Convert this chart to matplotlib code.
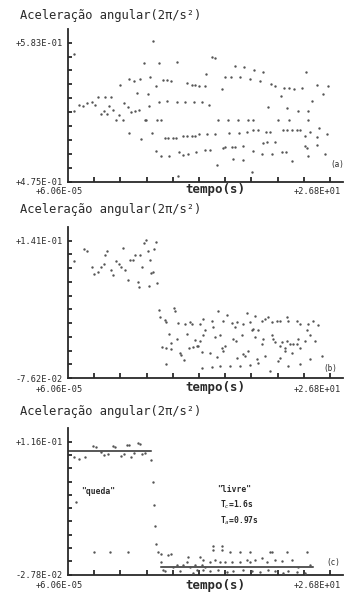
import numpy as np
import matplotlib.pyplot as plt

# panel (a)
t_a = [0.62, 1.13, 1.58, 1.99, 2.44, 2.78, 3.02, 3.81, 4.40, 3.37, 3.64, 3.99, 4.57, 4.23, 5.26,
       4.91, 5.60, 5.33, 5.77, 6.12, 6.46, 6.87, 7.25, 6.22, 6.73, 7.39, 7.77, 8.38, 8.73, 7.08,
       8.18, 6.29, 7.49, 8.59, 7.83, 8.01, 9.14, 9.55, 8.28, 9.31, 10.10, 11.10, 11.96, 12.88, 13.68,
       9.04, 9.31, 11.10, 9.72, 10.17, 10.58, 12.13, 12.64, 12.99, 13.43, 14.02, 8.97, 9.48, 10.31,
       11.34, 11.79, 12.23, 13.09, 14.02, 9.90, 10.24, 10.69, 11.03, 11.79, 12.20, 12.64, 12.99,
       13.43, 11.27, 0.62,
       14.69, 15.03, 14.11, 17.08, 18.04, 19.06, 19.98, 16.06, 16.67, 17.59, 18.62, 19.64, 20.76,
       21.17, 22.09, 22.64, 23.15, 23.90, 24.34, 25.44, 26.63, 26.12, 15.72, 21.79, 14.45, 20.49,
       22.37, 23.49, 24.58, 24.92, 15.38, 16.40, 17.42, 18.44, 18.96, 21.51, 22.64, 24.58, 14.18,
       15.03, 16.50, 17.52, 18.27, 18.96, 19.47, 20.25, 20.66, 21.96, 22.37, 22.88, 23.39, 23.73,
       24.24, 24.75, 25.71, 25.44, 26.46, 14.52, 15.82, 16.06, 16.74, 17.08, 17.93, 19.98, 20.32,
       21.17, 21.85, 22.30, 24.24, 24.41, 25.44, 16.91, 17.86, 18.96, 19.81, 20.83, 22.88, 24.58,
       26.29, 15.21, 18.85]
acc_a = [0.530, 0.535, 0.534, 0.536, 0.537, 0.535, 0.541, 0.541, 0.541, 0.528, 0.530, 0.528, 0.531,
         0.534, 0.527, 0.523, 0.523, 0.550, 0.536, 0.533, 0.529, 0.530, 0.531, 0.555, 0.553, 0.555,
         0.567, 0.556, 0.584, 0.544, 0.543, 0.513, 0.508, 0.513, 0.523, 0.523, 0.523, 0.523, 0.534,
         0.537, 0.538, 0.537, 0.537, 0.537, 0.537, 0.549, 0.567, 0.568, 0.554, 0.554, 0.553, 0.552,
         0.550, 0.550, 0.549, 0.549, 0.499, 0.495, 0.495, 0.498, 0.496, 0.497, 0.498, 0.500, 0.509,
         0.509, 0.509, 0.509, 0.511, 0.511, 0.511, 0.511, 0.512, 0.480, 0.574,
         0.572, 0.571, 0.559, 0.565, 0.564, 0.562, 0.560, 0.556, 0.556, 0.556, 0.555, 0.553, 0.551,
         0.549, 0.548, 0.548, 0.547, 0.548, 0.560, 0.550, 0.549, 0.543, 0.547, 0.542, 0.535, 0.533,
         0.532, 0.530, 0.530, 0.538, 0.523, 0.523, 0.523, 0.523, 0.523, 0.523, 0.523, 0.523, 0.512,
         0.512, 0.513, 0.513, 0.514, 0.515, 0.515, 0.514, 0.514, 0.515, 0.515, 0.515, 0.515, 0.515,
         0.511, 0.514, 0.517, 0.510, 0.512, 0.500, 0.501, 0.502, 0.502, 0.502, 0.503, 0.505, 0.506,
         0.506, 0.498, 0.498, 0.503, 0.501, 0.504, 0.493, 0.492, 0.499, 0.497, 0.497, 0.491, 0.495,
         0.497, 0.488, 0.483]

# panel (b)
t_b = [0.62, 1.65, 1.92, 2.41, 2.68, 3.02, 3.37, 3.64, 3.81, 3.99, 4.40, 4.57, 4.91, 5.26, 5.43,
       5.60, 5.88, 6.12, 6.36, 6.63, 6.87, 7.32, 7.77, 8.01, 7.15, 7.22, 7.59, 8.18, 8.28, 8.42,
       8.52, 8.69, 9.04, 9.14, 8.80, 9.28, 9.38, 9.90, 10.00, 10.31, 10.86, 10.93, 11.27, 9.66,
       10.07, 10.51, 10.58, 11.10, 11.44, 11.55, 10.07, 11.96, 11.89, 12.13, 12.47, 12.64, 12.40,
       12.75, 12.99, 13.16, 13.33, 13.50, 13.68, 13.85, 14.02, 13.68,
       13.84, 14.69, 15.38, 15.82, 16.23, 16.74, 17.08, 17.25, 17.93, 18.27, 18.62, 18.96, 19.13,
       19.81, 20.15, 20.49, 20.83, 21.41, 21.68, 22.37, 22.54, 23.39, 23.73, 24.41, 24.58, 25.09,
       25.61,
       13.50, 14.86, 15.03, 15.55, 15.72, 16.06, 16.91, 17.18, 17.76, 18.10, 18.44, 18.79, 19.13,
       19.47, 19.81, 19.98, 20.83, 21.00, 21.17, 21.68, 21.85, 22.20, 22.37, 22.71, 22.98, 23.39,
       23.56, 23.73, 24.24, 24.75, 25.26, 25.95,
       14.52, 15.21, 15.89, 17.25, 17.93, 19.30, 20.15, 21.68, 22.20, 22.88, 24.75,
       14.69, 15.55, 16.57, 17.59, 18.62, 19.47, 20.66, 21.51, 22.54, 23.73]
acc_b = [0.108, 0.127, 0.124, 0.099, 0.088, 0.092, 0.100, 0.104, 0.118, 0.125, 0.095, 0.087, 0.108,
         0.104, 0.100, 0.129, 0.095, 0.078, 0.110, 0.111, 0.118, 0.118, 0.137, 0.142, 0.076, 0.067,
         0.100, 0.124, 0.069, 0.110, 0.090, 0.091, 0.138, 0.074, 0.127, 0.031, 0.020, 0.016, 0.013,
         -0.006, 0.034, 0.029, 0.010, -0.027, -0.029, -0.031, -0.021, -0.014, -0.037, -0.040, -0.054,
         0.009, -0.048, -0.006, 0.012, 0.009, -0.028, -0.027, -0.016, -0.026, -0.026, 0.009, -0.035,
         -0.008, -0.001, -0.061,
         0.017, 0.014, 0.029, 0.014, 0.023, 0.010, 0.004, 0.012, 0.009, 0.027, 0.012, 0.001, 0.022,
         0.014, 0.017, 0.020, 0.012, 0.014, 0.014, 0.020, 0.014, 0.014, 0.009, -0.001, 0.009, 0.014,
         0.007,
         -0.017, 0.004, -0.012, -0.009, -0.028, -0.025, -0.015, -0.017, -0.009, -0.041, -0.033,
         -0.001, -0.012, -0.001, -0.022, -0.015, -0.009, -0.015, -0.020, -0.025, -0.020, -0.029,
         -0.017, -0.022, -0.022, -0.022, -0.015, -0.028, -0.017, -0.009, -0.017, -0.041,
         -0.036, -0.043, -0.033, -0.044, -0.038, -0.046, -0.041, -0.044, -0.033, -0.036, -0.046,
         -0.059, -0.058, -0.058, -0.057, -0.055, -0.053, -0.065, -0.049, -0.057, -0.054]

# panel (c)
t_c = [0.62, 1.13, 1.72, 2.51, 2.85, 3.37, 3.71, 4.05, 4.57, 4.84, 5.43, 5.77, 6.05, 6.29, 6.46,
       6.73, 7.15, 7.32, 7.59, 7.83, 8.45,
       8.69, 8.76, 8.93, 9.04, 9.21, 9.48, 9.55, 9.72, 9.90, 10.24, 10.58, 10.75, 11.10, 11.44,
       11.79, 12.13, 12.30, 12.47, 12.82, 12.99, 13.16, 13.50, 13.68, 14.02,
       0.79, 2.68, 4.33, 6.12,
       14.86, 14.86, 15.72, 15.72, 16.57, 17.59, 18.62, 20.66, 20.83, 22.37, 24.41,
       13.84, 14.52, 15.03, 15.55, 16.06, 16.74, 17.59, 18.27, 18.62, 19.13, 19.81, 20.32, 21.17,
       21.85, 22.88, 23.56, 24.75,
       13.84, 14.52, 15.38, 16.23, 16.91, 17.93, 18.79, 19.64, 20.49, 21.17, 22.03, 22.54, 23.39,
       24.24]
acc_c = [0.0991, 0.0973, 0.0998, 0.1114, 0.1104, 0.1044, 0.1016, 0.1026, 0.1114, 0.1097, 0.1009,
         0.1026, 0.1125, 0.1125, 0.0998, 0.1034, 0.1150, 0.1132, 0.1026, 0.1034, 0.0956,
         0.0727, 0.0480, 0.0251, 0.0057, -0.0031, -0.0049, -0.0137, -0.0225, -0.0243, -0.0067,
         -0.0049, -0.0190, -0.0172, -0.0243, -0.0172, -0.0137, -0.0084, -0.0190, -0.0260, -0.0172,
         -0.0225, -0.0084, -0.0172, -0.0190,
         0.0505, -0.0031, -0.0031, -0.0031,
         0.0029, -0.0014, 0.0029, -0.0014, -0.0031, -0.0031, -0.0031, -0.0031, -0.0031, -0.0031,
         -0.0031,
         -0.0119, -0.0137, -0.0119, -0.0144, -0.0137, -0.0144, -0.0137, -0.0119, -0.0144, -0.0119,
         -0.0102, -0.0137, -0.0119, -0.0130, -0.0119, -0.0190, -0.0172,
         -0.0225, -0.0243, -0.0225, -0.0250, -0.0243, -0.0225, -0.0243, -0.0250, -0.0225, -0.0243,
         -0.0260, -0.0243, -0.0253, -0.0260]

# mean levels drawn in (c): (level, start, end)
mean_c = [(0.1054, 0.0, 8.45), (-0.0200, 9.48, 25.06)]

y_ranges = [(0.475, 0.583), (-0.0762, 0.141), (-0.0278, 0.116)]
y_labels = [('+4.75E-01', '+5.83E-01'), ('-7.62E-02', '+1.41E-01'), ('-2.78E-02', '+1.16E-01')]
x_labels = ('+6.06E-05', '+2.68E+01')
t_max = 26.8

W, H = 346, 593
ink = '#2a2a2a'
mono = 'DejaVu Sans Mono'

def fpos(x, y):
    return x / W, 1 - y / H

fig = plt.figure(figsize=(W / 100, H / 100), dpi=100)

# axes boxes in pixels: top, bottom, title y, x label y, panel tag pos
boxes = [(29, 182, 15, 191, (337, 165)),
         (227, 378, 210, 389, (330, 368)),
         (428, 574.7, 412, 586, (333, 563))]
tags = ['(a)', '(b)', '(c)']
data = [(t_a, acc_a), (t_b, acc_b), (t_c, acc_c)]
left, right = 68, 343

for i in range(3):
    top, bot, ty, xly, tagpos = boxes[i]
    ax = fig.add_axes([left / W, 1 - bot / H, (right - left) / W, (bot - top) / H])
    y0, y1 = y_ranges[i]
    step = (y1 - y0) / 10
    ax.scatter(data[i][0], data[i][1], s=3, color='#555555', linewidths=0, zorder=3)
    ax.set_xlim(0, t_max * (right - left) / 262)
    ax.set_ylim(y0, y0 + step * 10 * (bot - top) / (bot - top - 13.6))
    for s in ['top', 'right']:
        ax.spines[s].set_visible(False)
    for s in ['left', 'bottom']:
        ax.spines[s].set_linewidth(1.3)
        ax.spines[s].set_color(ink)
    ax.set_yticks(np.linspace(y0, y1, 11))
    ylab = [''] * 11
    ylab[0], ylab[-1] = y_labels[i]
    ax.set_yticklabels(ylab, fontfamily=mono, fontsize=6.2, color=ink)
    ax.set_xticks(np.linspace(0, t_max, 11)[1:])
    ax.set_xticklabels([])
    ax.tick_params(axis='both', direction='in', length=3, width=1.3, color=ink, pad=4)
    ax.tick_params(axis='x', length=3.5)
    ax.patch.set_alpha(0)

    fig.text(*fpos(20, ty), 'Aceleração angular(2π/s²)', fontfamily=mono, fontsize=8.7,
             color=ink, ha='left', va='center')
    fig.text(*fpos(59, xly), x_labels[0], fontfamily=mono, fontsize=6.2, color=ink,
             ha='center', va='center')
    fig.text(*fpos(317, xly), x_labels[1], fontfamily=mono, fontsize=6.2, color=ink,
             ha='center', va='center')
    fig.text(*fpos(215, xly - 1), 'tempo(s)', fontfamily=mono, fontsize=9, fontweight='bold',
             color=ink, ha='center', va='center')
    fig.text(*fpos(*tagpos), tags[i], fontfamily=mono, fontsize=5.5, color=ink,
             ha='center', va='center')

    if i == 2:
        for lev, a, b in mean_c:
            ax.plot([a, b], [lev, lev], color=ink, lw=1.1, zorder=2)

fig.text(*fpos(98, 491), '"queda"', fontfamily=mono, fontsize=5.8, fontweight='bold',
         color=ink, ha='center', va='center')
fig.text(*fpos(234, 490), '"livre"', fontfamily=mono, fontsize=5.8, fontweight='bold',
         color=ink, ha='center', va='center')
fig.text(*fpos(220, 505), r'T$_c$=1.6s', fontfamily=mono, fontsize=5.8, fontweight='bold',
         color=ink, ha='left', va='center')
fig.text(*fpos(220, 521), r'T$_a$=0.97s', fontfamily=mono, fontsize=5.8, fontweight='bold',
         color=ink, ha='left', va='center')

fig.savefig('out.png', dpi=100)
